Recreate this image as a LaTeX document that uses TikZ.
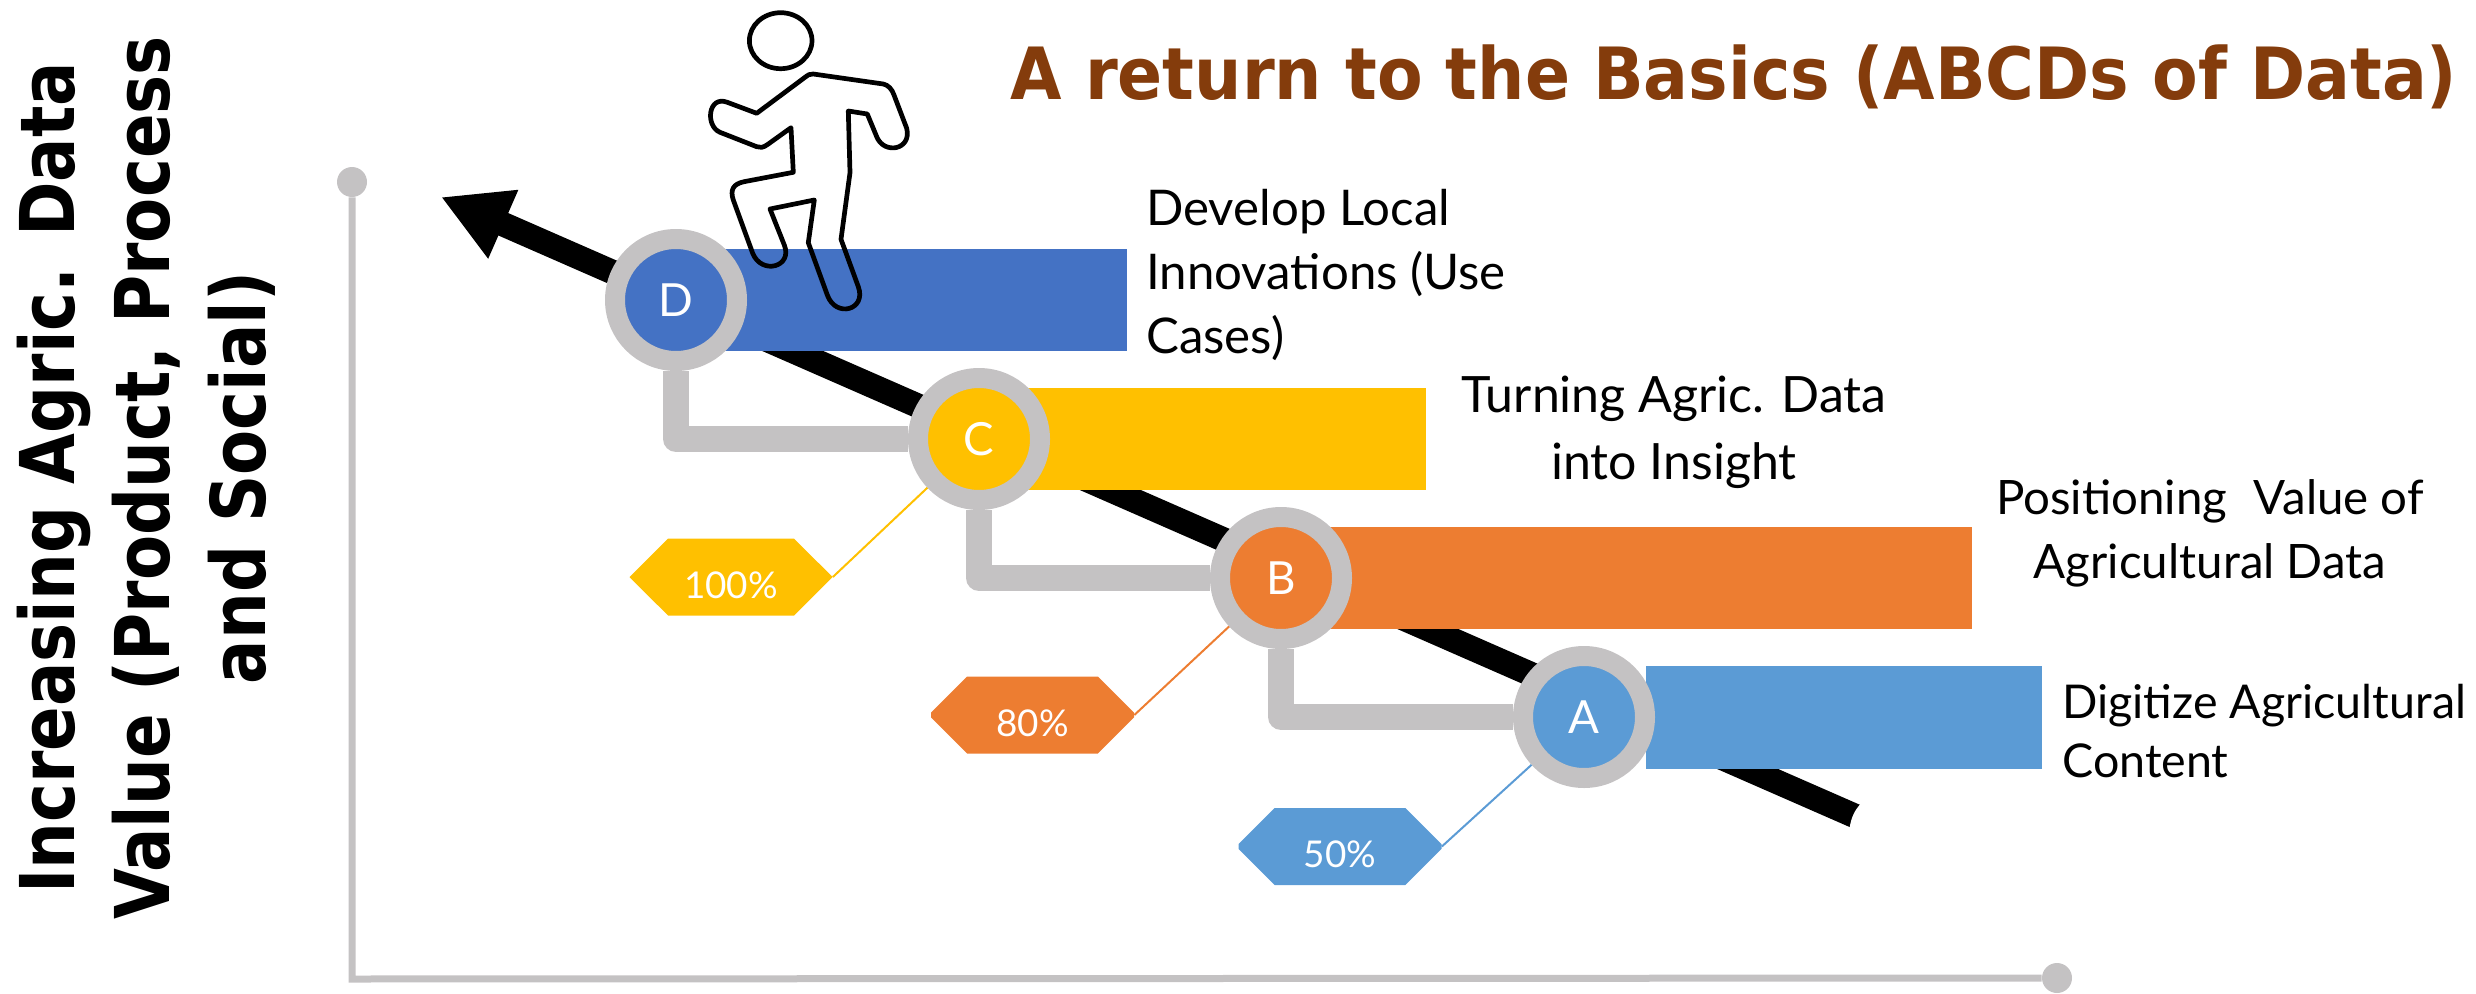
\documentclass[tikz,border=0pt]{standalone}
\usepackage{fontspec}
\usepackage{tikz}
\usetikzlibrary{arrows.meta,shapes.misc}
\setmainfont{Lato}
\newfontfamily\titlefont{DejaVu Sans Bold}[FakeStretch=0.923]
\newfontfamily\axisfont{DejaVu Sans Bold}[FakeStretch=0.87]
\definecolor{stepD}{HTML}{4472C4}
\definecolor{stepC}{HTML}{FFC000}
\definecolor{stepB}{HTML}{ED7D31}
\definecolor{stepA}{HTML}{5B9BD5}
\definecolor{railgray}{HTML}{C4C2C3}
\definecolor{titlebrown}{HTML}{843C0C}
\def\px{0.02cm}
\newcommand{\tagtext}[1]{\smash{\raisebox{-0.42cm}{#1}}}
\tikzset{
	axisline/.style={draw=railgray,line width=7*\px},
	axisend/.style={circle,fill=railgray,inner sep=0pt,minimum size=30*\px},
	trend/.style={line width=24.5*\px,-{Triangle[length=68*\px,width=70*\px]}},
	barbox/.style={inner sep=0pt,minimum height=102.5*\px},
	stepring/.style={circle,draw=railgray,line width=20*\px,minimum size=122*\px,inner sep=0pt,text=white,font=\fontsize{26}{30}\selectfont},
	elbow/.style={draw=railgray,line width=26*\px,line join=round},
	tagbox/.style={chamfered rectangle,chamfered rectangle xsep=38*\px,chamfered rectangle ysep=38.5*\px,inner sep=0pt,minimum width=203*\px,minimum height=77*\px,text=white,font=\fontsize{21}{25}\selectfont},
	leader/.style={line width=2*\px},
	stepnote/.style={inner sep=0pt},
	climber/.style={draw=black,line width=4.7*\px,line join=round},
}
\begin{document}
\begin{tikzpicture}[x=\px,y=-\px]
	\useasboundingbox (0,0) rectangle (2476,994);
	% axes
	\node [axisend] (axistop) at (352,182) {};
	\node [axisend] (axisright) at (2057,978) {};
	\coordinate (origin) at (352,979);
	\draw [axisline] (axistop) -- (origin) -- (axisright);
	% trend arrow
	\coordinate (trendtail) at (1855,816);
	\coordinate (trendtip) at (441,197);
	\draw [trend] (trendtail) -- (trendtip);
	\fill [white] (1860.5,804) .. controls (1853,812) and (1851,820) .. (1849.5,828) -- (1860,834) -- (1870,810) -- cycle;
	% bars
	\node [barbox,fill=stepD,minimum width=437*\px] (barD) at (908.5,300) {};
	\node [barbox,fill=stepC,minimum width=436*\px] (barC) at (1208,439) {};
	\node [barbox,fill=stepB,minimum width=682*\px] (barB) at (1631,578) {};
	\node [barbox,fill=stepA,minimum width=396*\px] (barA) at (1844,717.5) {};
	% rings
	\node [stepring,fill=stepD] (D) at (676,300) {D};
	\node [stepring,fill=stepC] (C) at (979,439) {C};
	\node [stepring,fill=stepB] (B) at (1281,578) {B};
	\node [stepring,fill=stepA] (A) at (1584,717) {A};
	\draw [elbow] (D) |- (C);
	\draw [elbow] (C) |- (B);
	\draw [elbow] (B) |- (A);
	% tags
	\node [tagbox,fill=stepC] (tagC) at (731,577) {\tagtext{100\%}};
	\node [tagbox,fill=stepB] (tagB) at (1032.5,715) {\tagtext{80\%}};
	\node [tagbox,fill=stepA] (tagA) at (1340,846.5) {\tagtext{50\%}};
	\draw [leader,stepC] (tagC.east) -- (C);
	\draw [leader,stepB] (tagB.east) -- (B);
	\draw [leader,stepA] (tagA.east) -- (A);
	% labels
	\node [stepnote,anchor=west,align=left,font=\fontsize{28}{36.5}\selectfont] (noteD) at (1146,275) {Develop Local\\Innovations (Use\\Cases)};
	\node [stepnote,align=center,font=\fontsize{28.5}{38}\selectfont] (noteC) at (1674,432) {Turning Agric. Data\\into Insight};
	\node [stepnote,align=center,font=\fontsize{27}{36.5}\selectfont] (noteB) at (2210,533) {Positioning\hspace{0.3em} Value of\\Agricultural Data};
	\node [stepnote,anchor=west,align=left,font=\fontsize{26.5}{34}\selectfont] (noteA) at (2062,731) {Digitize Agricultural\\Content};
	\node [font=\titlefont\fontsize{41}{48}\selectfont,text=titlebrown,inner sep=0pt] (title) at (1734,76.5) {A return to the Basics (ABCDs of Data)};
	\node [rotate=90,align=center,inner sep=0pt,font=\axisfont\fontsize{43}{54.4}\selectfont] (yaxis) at (146,478) {Increasing Agric. Data\\Value (Product, Process\\and Social)};
	% climber
	\draw [climber] (780.7,40.7) ellipse [x radius=31.3,y radius=28];
	\draw [climber] (813.3,74) -- (883.3,84) .. controls (888,85) and (892,89) .. (894,95)
		-- (906.7,128.3) .. controls (912,150) and (884,155) .. (876.7,136.7)
		-- (867.3,114) -- (848.3,111) -- (850,172.7) -- (841,239.3) -- (858.3,286.7)
		.. controls (866.8,310) and (835.8,318.5) .. (827.3,295)
		-- (808.3,242.7) -- (814.3,200) -- (770,209) -- (784.3,245)
		.. controls (793,267) and (761.7,275.3) .. (752.7,253.3)
		-- (733.3,200) .. controls (730,190) and (733,184) .. (744,181.7)
		-- (793.3,172.3) -- (791,127.7) -- (768.3,144)
		.. controls (763,148) and (760,148) .. (756.7,146.7)
		-- (720,132.3) .. controls (705,126) and (708,95) .. (727.3,102.3)
		-- (756.7,113.3) -- (805,77.3) .. controls (808,75) and (810,73.6) .. cycle;
\end{tikzpicture}
\end{document}
